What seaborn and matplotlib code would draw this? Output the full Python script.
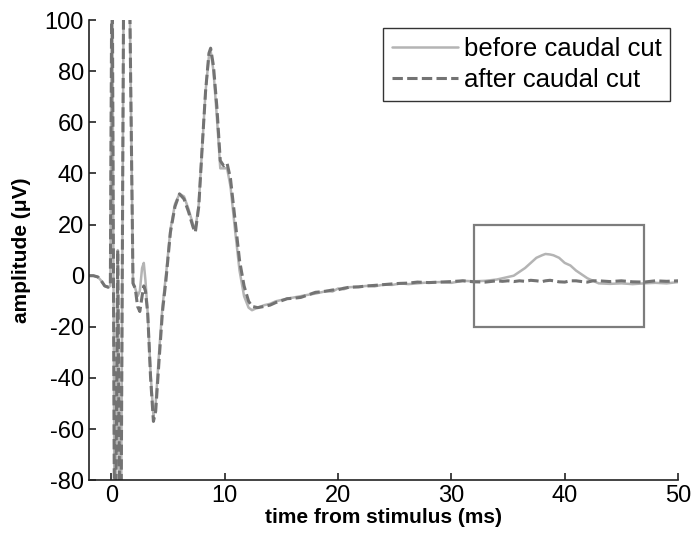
import numpy as np
import pandas as pd
import matplotlib
matplotlib.use('Agg')
import matplotlib.pyplot as plt
import matplotlib.patches as patches
import seaborn as sns

# values (time in ms, amplitude in uV)
time_ms = [-2.0, -1.6, -1.2, -0.9, -0.6, -0.3, -0.1,
           0.05, 0.3, 0.55, 0.8, 1.1, 1.5, 1.9, 2.1, 2.3, 2.5, 2.7, 2.85, 3.0,
           3.2, 3.45, 3.7, 3.9, 4.2, 4.5, 4.8, 5.2, 5.6, 6.0, 6.4, 6.8, 7.2,
           7.4, 7.7, 8.0, 8.3, 8.6, 8.75, 9.0, 9.3, 9.6, 9.9, 10.2, 10.5, 10.9,
           11.3, 11.7, 12.1, 12.4, 12.9, 13.5, 14.0, 14.5, 15.0, 15.5, 16.1,
           16.7, 17.3, 18.0, 18.5, 19.0, 19.5, 20.0, 20.5, 21.0, 21.8, 22.5,
           23.2, 24.0, 24.8, 25.5, 26.2, 27.0, 28.0, 29.0, 30.0, 31.0, 32.0,
           33.0, 34.0, 34.5, 35.0, 35.5, 36.0, 36.5, 37.0, 37.5, 38.0, 38.3,
           38.7, 39.0, 39.5, 40.0, 40.5, 41.0, 41.5, 42.0, 42.5, 43.0, 44.0,
           45.0, 46.0, 47.0, 48.0, 49.0, 50.0]

before_cut = [0.0, 0.0, -0.5, -2.0, -4.0, -4.5, -4.0,
              140, -140, 10, -140, 140, 150, -3, -5, -8, -6, 3, 5, -2,
              -15, -38, -55, -50, -30, -12, 0, 18, 28, 32, 31, 26, 20,
              18, 28, 50, 72, 86, 88, 80, 62, 42, 42, 42, 35, 18,
              2, -8, -12.5, -13.5, -12.5, -11.5, -11.0, -10.0, -9.5, -9.0, -8.5,
              -8.0, -7.5, -7.0, -6.5, -6.0, -6.2, -5.0, -5.3, -4.5, -4.3, -4.0,
              -4.2, -3.5, -3.6, -3.0, -3.3, -3.0, -2.6, -2.5, -2.8, -2.0, -2.2,
              -2.0, -1.5, -1.0, -0.5, 0.0, 1.5, 3.0, 5.0, 7.0, 8.0, 8.5,
              8.3, 8.0, 7.0, 5.0, 4.0, 2.0, 0.5, -1.0, -2.0, -3.0, -3.2,
              -3.0, -3.3, -3.0, -2.8, -3.0, -2.5]

after_cut = [0.0, 0.0, -0.5, -2.0, -4.0, -4.5, -4.0,
             140, -140, 10, -140, 140, 150, -3, -5, -12, -14, -8, -4, -6,
             -15, -40, -57, -53, -33, -14, -2, 17, 27, 32, 30, 25, 19,
             17, 27, 50, 72, 87, 89, 82, 66, 45, 43, 44, 38, 22,
             6, -4, -10, -12, -12.5, -12.0, -11.5, -10.5, -9.8, -9.0, -8.8,
             -8.5, -7.6, -6.5, -6.3, -6.0, -5.6, -5.5, -4.9, -4.5, -4.4, -4.0,
             -3.8, -3.5, -3.2, -3.0, -2.9, -2.5, -2.7, -2.5, -2.3, -2.0, -2.4,
             -2.5, -2.0, -2.2, -2.0, -2.3, -2.0, -2.2, -1.8, -2.0, -2.3, -2.0,
             -1.8, -2.0, -2.4, -2.5, -2.0, -2.0, -2.3, -2.5, -2.0, -2.0, -2.3,
             -2.0, -2.4, -2.5, -2.0, -2.2, -2.0]

box_x = [32, 47]
box_y = [-20, 20]

df = pd.DataFrame({'time': time_ms, 'before': before_cut, 'after': after_cut})

sns.set_style('ticks')
plt.rcParams['font.family'] = ['Liberation Sans', 'DejaVu Sans']
plt.rcParams['axes.unicode_minus'] = False
plt.rcParams['xtick.direction'] = 'in'
plt.rcParams['ytick.direction'] = 'in'
plt.rcParams['text.color'] = 'black'
plt.rcParams['axes.labelcolor'] = 'black'
plt.rcParams['xtick.labelcolor'] = 'black'
plt.rcParams['ytick.labelcolor'] = 'black'

fig = plt.figure(figsize=(6.94, 5.42), dpi=100)
ax = fig.add_axes([0.128, 0.114, 0.849, 0.849])

sns.lineplot(data=df, x='time', y='before', ax=ax, color='#b4b4b4', lw=1.8,
             label='before caudal cut', estimator=None, sort=False)
sns.lineplot(data=df, x='time', y='after', ax=ax, color='#737373', lw=2.2,
             label='after caudal cut', estimator=None, sort=False,
             linestyle=(0, (3.4, 1.4)))

ax.add_patch(patches.Rectangle((box_x[0], box_y[0]), box_x[1] - box_x[0], box_y[1] - box_y[0],
                               fill=False, ec='#7d7d7d', lw=1.6, zorder=3))

ax.set_xlim(-2, 50)
ax.set_ylim(-80, 100)
ax.set_xticks([0, 10, 20, 30, 40, 50])
ax.set_yticks(range(-80, 101, 20))
ax.tick_params(labelsize=17, length=5, width=1.2, color='#222222', labelcolor='black')
for s in ['left', 'bottom']:
    ax.spines[s].set_color('#222222')
    ax.spines[s].set_linewidth(1.2)
sns.despine(ax=ax)

ax.set_xlabel('time from stimulus (ms)', fontsize=15, fontweight='bold', labelpad=1, color='black')
ax.set_ylabel('amplitude (\u03bcV)', fontsize=15, fontweight='bold', labelpad=10, color='black')

leg = ax.legend(loc='upper right', fontsize=18.5, frameon=True, fancybox=False,
                handlelength=2.6, handletextpad=0.2, borderpad=0.35, labelspacing=0.3,
                borderaxespad=0.3)
leg.get_frame().set_edgecolor('black')
leg.get_frame().set_linewidth(1.0)
for txt in leg.get_texts():
    txt.set_color('black')

fig.savefig('out.png', dpi=100)
